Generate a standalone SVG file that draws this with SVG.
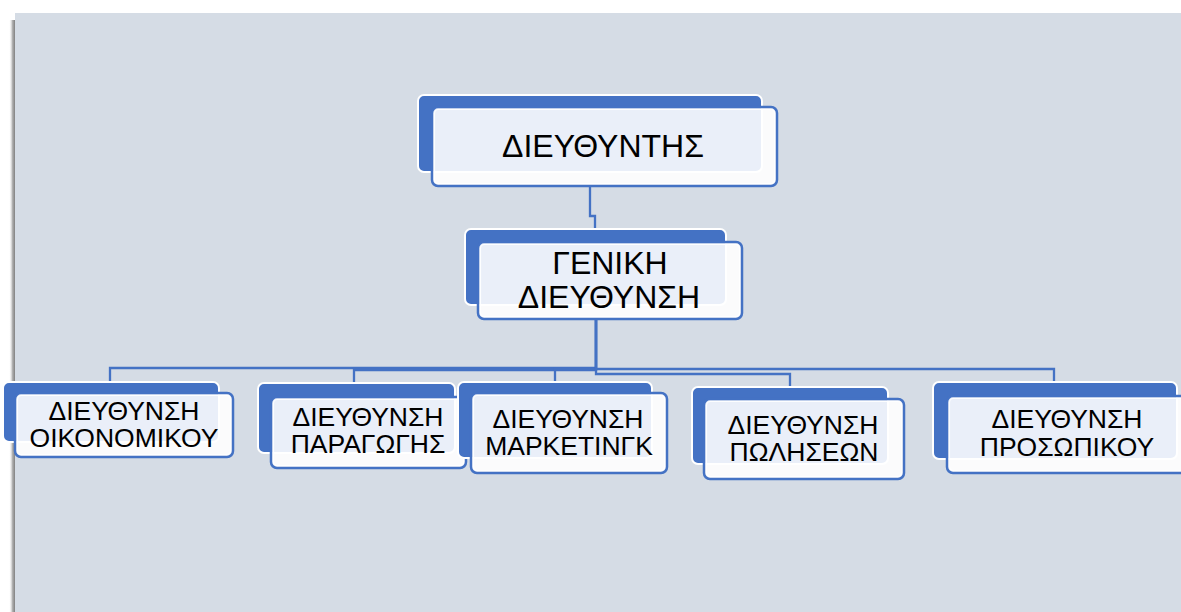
<svg xmlns="http://www.w3.org/2000/svg" width="1181" height="612" viewBox="0 0 1181 612">
<defs>
<linearGradient id="sh" x1="0" y1="0" x2="1" y2="0">
<stop offset="0" stop-color="#ffffff" stop-opacity="0"/>
<stop offset="0.5" stop-color="#b0b0b0"/>
<stop offset="1" stop-color="#6e6e6e"/>
</linearGradient>
<style>
.back{fill:#4472C4;stroke:#ffffff;stroke-width:2}
.front{fill:#ffffff;fill-opacity:0.89;stroke:#4472C4;stroke-width:2.5}
.inner{fill:none;stroke:#ffffff;stroke-width:1.2;stroke-opacity:0.9}
.conn{fill:none;stroke:#4472C4;stroke-width:2.3}
text{font-family:"Liberation Sans",Arial,sans-serif;fill:#000;text-anchor:middle}
.big{font-size:32px}
.sm{font-size:26.5px}
</style>
</defs>
<rect x="0" y="0" width="1181" height="612" fill="#ffffff"/>
<rect x="9" y="20" width="7" height="592" fill="url(#sh)"/>
<rect x="15" y="13" width="1166" height="599" fill="#D5DCE5"/>

<g id="connectors">
<path class="conn" d="M590,186 V216 H595 V229"/>
<path class="conn" d="M596,319 V368 H110 V381"/>
<path class="conn" d="M596,319 V370 H354 V383"/>
<path class="conn" d="M596,319 V369 H555 V382"/>
<path class="conn" d="M596,319 V374 H790 V387"/>
<path class="conn" d="M596,319 V369 H1054 V382"/>
</g>

<g id="node-director">
<rect class="back" x="418" y="95" width="344" height="77" rx="6"/>
<rect class="front" x="432" y="107" width="345" height="79" rx="6"/>
<rect class="inner" x="434.5" y="109.5" width="340" height="74" rx="4"/>
<text class="big" x="603" y="157">ΔΙΕΥΘΥΝΤΗΣ</text>
</g>

<g id="node-general">
<rect class="back" x="465" y="229" width="261" height="76" rx="6"/>
<rect class="front" x="478" y="242" width="264" height="77" rx="6"/>
<rect class="inner" x="480.5" y="244.5" width="259" height="72" rx="4"/>
<text class="big" x="610" y="274">ΓΕΝΙΚΗ</text>
<text class="big" x="609" y="308">ΔΙΕΥΘΥΝΣΗ</text>
</g>

<g id="node-finance">
<rect class="back" x="3" y="382" width="216" height="60" rx="6"/>
<rect class="front" x="15" y="393" width="218" height="64" rx="6"/>
<rect class="inner" x="17.5" y="395.5" width="213" height="59" rx="4"/>
<text class="sm" x="124" y="420">ΔΙΕΥΘΥΝΣΗ</text>
<text class="sm" x="124" y="447">ΟΙΚΟΝΟΜΙΚΟΥ</text>
</g>

<g id="node-production">
<rect class="back" x="258" y="383" width="197" height="70" rx="6"/>
<rect class="front" x="271" y="397" width="195" height="71" rx="6"/>
<rect class="inner" x="273.5" y="399.5" width="190" height="66" rx="4"/>
<text class="sm" x="368" y="426">ΔΙΕΥΘΥΝΣΗ</text>
<text class="sm" x="368" y="453">ΠΑΡΑΓΩΓΗΣ</text>
</g>

<g id="node-marketing">
<rect class="back" x="458" y="382" width="194" height="76" rx="6"/>
<rect class="front" x="471" y="393" width="196" height="80" rx="6"/>
<rect class="inner" x="473.5" y="395.5" width="191" height="75" rx="4"/>
<text class="sm" x="568" y="428">ΔΙΕΥΘΥΝΣΗ</text>
<text class="sm" x="569" y="455">ΜΑΡΚΕΤΙΝΓΚ</text>
</g>

<g id="node-sales">
<rect class="back" x="692" y="387" width="196" height="77" rx="6"/>
<rect class="front" x="704" y="399" width="200" height="80" rx="6"/>
<rect class="inner" x="706.5" y="401.5" width="195" height="75" rx="4"/>
<text class="sm" x="803" y="434">ΔΙΕΥΘΥΝΣΗ</text>
<text class="sm" x="804" y="461">ΠΩΛΗΣΕΩΝ</text>
</g>

<g id="node-personnel">
<rect class="back" x="933" y="382" width="244" height="77" rx="6"/>
<rect class="front" x="947" y="396" width="245" height="77" rx="6"/>
<rect class="inner" x="949.5" y="398.5" width="240" height="72" rx="4"/>
<text class="sm" x="1067" y="428">ΔΙΕΥΘΥΝΣΗ</text>
<text class="sm" x="1067" y="456">ΠΡΟΣΩΠΙΚΟΥ</text>
</g>
</svg>
